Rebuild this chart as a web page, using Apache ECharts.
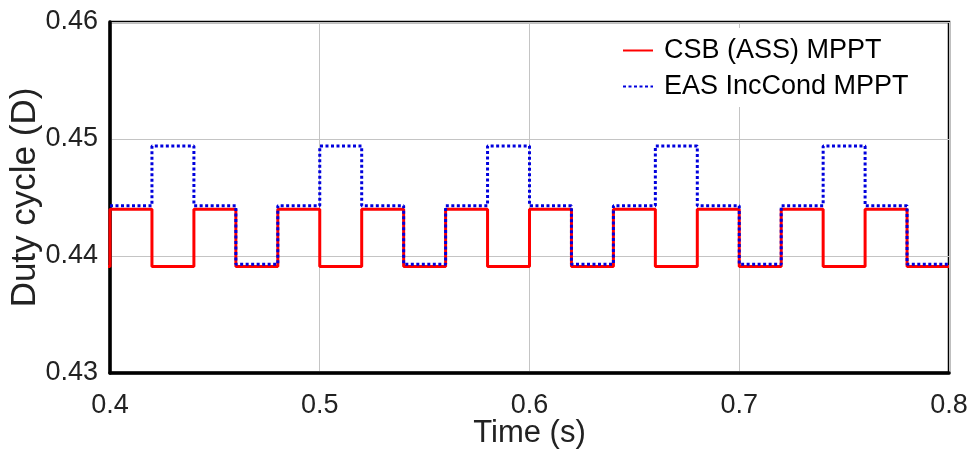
<!DOCTYPE html>
<html>
<head>
<meta charset="utf-8">
<script src="https://cdn.jsdelivr.net/npm/echarts@6/dist/echarts.min.js"></script>
<style>
  html, body { margin: 0; padding: 0; background: #fff; }
  #chart { width: 971px; height: 467px; }
</style>
</head>
<body>
<div id="chart"></div>
<script>
// Switching instants (s)
const times = [0.40, 0.42, 0.44, 0.46, 0.48, 0.50, 0.52, 0.54, 0.56, 0.58,
               0.60, 0.62, 0.64, 0.66, 0.68, 0.70, 0.72, 0.74, 0.76, 0.78, 0.80];
// Duty cycle held from each instant to the next
const csbDuty = [0.4440, 0.4391, 0.4440, 0.4391, 0.4440, 0.4391, 0.4440, 0.4391, 0.4440, 0.4391,
                 0.4440, 0.4391, 0.4440, 0.4391, 0.4440, 0.4391, 0.4440, 0.4391, 0.4440, 0.4391, 0.4391];
const easDuty = [0.4443, 0.4494, 0.4443, 0.4393, 0.4443, 0.4494, 0.4443, 0.4393, 0.4443, 0.4494,
                 0.4443, 0.4393, 0.4443, 0.4494, 0.4443, 0.4393, 0.4443, 0.4494, 0.4443, 0.4393, 0.4393];
// value just before the window (red comes up from the low level at t = 0.4)
const csbBefore = [0.39, 0.4391];
const seriesNames = ['CSB (ASS) MPPT', 'EAS IncCond MPPT'];
const xTicks = { min: 0.4, max: 0.8, step: 0.1 };
const yTicks = { min: 0.43, max: 0.46, step: 0.01 };

const csbData = [csbBefore].concat(times.map((t, i) => [t, csbDuty[i]]));
const easData = times.map((t, i) => [t, easDuty[i]]);

const font = "'Liberation Sans', Arial, Helvetica, sans-serif";
const chart = echarts.init(document.getElementById('chart'));
chart.setOption({
  animation: false,
  backgroundColor: '#fff',
  grid: {
    left: 110, right: 22, top: 22, bottom: 94,
    outerBoundsMode: 'none', containLabel: false,
    show: true, borderColor: '#000', borderWidth: 2.5, backgroundColor: 'transparent'
  },
  legend: {
    left: 612, top: 28, orient: 'vertical',
    backgroundColor: '#fff',
    padding: [7, 32, 5, 10],
    itemWidth: 30, itemHeight: 14, itemGap: 5,
    itemStyle: { opacity: 0 },
    textStyle: { fontFamily: font, fontSize: 27, color: '#000', lineHeight: 31, padding: [0, 0, 0, 6] },
    data: seriesNames
  },
  xAxis: {
    type: 'value', min: xTicks.min, max: xTicks.max, interval: xTicks.step,
    name: 'Time (s)', nameLocation: 'middle', nameGap: 45, nameMoveOverlap: false,
    nameTextStyle: { fontFamily: font, fontSize: 31, color: '#222' },
    axisLine: { show: true, onZero: false, lineStyle: { color: '#000', width: 3.5 } },
    axisTick: { show: false },
    axisLabel: { fontFamily: font, fontSize: 27, color: '#222', margin: 19,
                 formatter: v => v.toFixed(1) },
    splitLine: { show: true, lineStyle: { color: '#c4c4c4', width: 1 } }
  },
  yAxis: {
    type: 'value', min: yTicks.min, max: yTicks.max, interval: yTicks.step,
    name: 'Duty cycle (D)', nameLocation: 'middle', nameGap: 67, nameMoveOverlap: false,
    nameTextStyle: { fontFamily: font, fontSize: 35, color: '#222' },
    axisLine: { show: true, onZero: false, lineStyle: { color: '#000', width: 3.5 } },
    axisTick: { show: false },
    axisLabel: { fontFamily: font, fontSize: 27, color: '#222', margin: 12,
                 formatter: v => v.toFixed(2) },
    splitLine: { show: true, lineStyle: { color: '#c4c4c4', width: 1 } }
  },
  series: [
    {
      name: seriesNames[0], type: 'line', step: 'end', symbol: 'none',
      data: csbData, clip: true,
      lineStyle: { color: '#ff0000', width: 3 }, itemStyle: { color: '#ff0000' }
    },
    {
      name: seriesNames[1], type: 'line', step: 'end', symbol: 'none',
      data: easData, clip: true,
      lineStyle: { color: '#0000dd', width: 3, type: [3, 2.5] }, itemStyle: { color: '#0000dd' }
    }
  ]
});
</script>
</body>
</html>
